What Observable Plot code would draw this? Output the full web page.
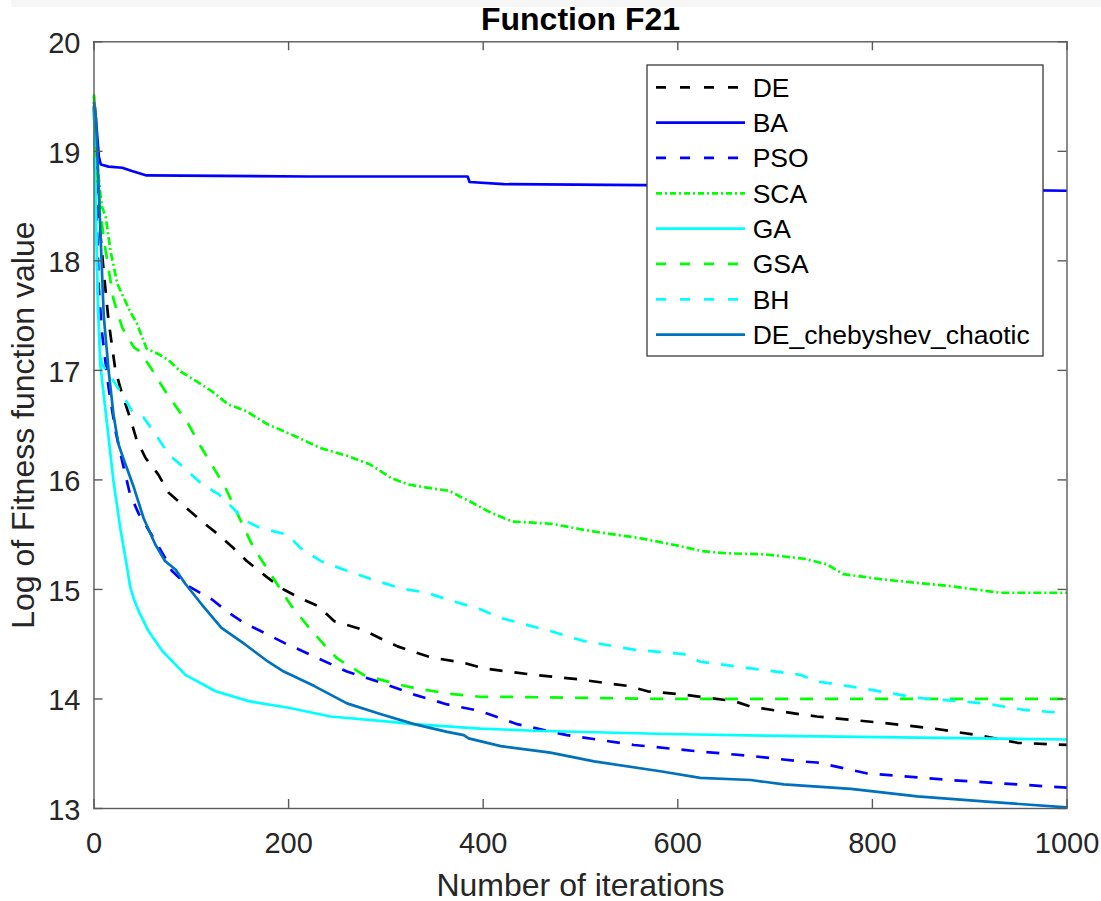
<!DOCTYPE html>
<html><head><meta charset="utf-8">
<script src="https://cdn.jsdelivr.net/npm/d3@7"></script>
<script src="https://cdn.jsdelivr.net/npm/@observablehq/plot@0.6"></script>
<style>
html,body{margin:0;padding:0;background:#fff;}
#wrap{position:relative;width:1101px;height:901px;overflow:hidden;font-family:"Liberation Sans",Arial,Helvetica,sans-serif;}
#wrap svg{display:block;}
#band{position:absolute;left:11px;top:0;width:1090px;height:7px;background:#f6f6f6;}
#legend{position:absolute;left:646px;top:64px;}
</style></head>
<body><div id="wrap"></div>
<script>
// ---- data (iteration, log fitness) ----
const seriesNames = ["DE","BA","PSO","SCA","GA","GSA","BH","DE_chebyshev_chaotic"];
const xTicks = [0,200,400,600,800,1000];
const yTicks = [13,14,15,16,17,18,19,20];

const deData = [[0,19.42],[3,18.7],[6,18.3],[10,17.9],[15,17.45],[22,17.0],[29,16.78],[37,16.57],[44,16.36],[53,16.2],[66,16.05],[77,15.88],[94,15.75],[111,15.62],[128,15.5],[143,15.38],[157,15.26],[178,15.11],[195,15.0],[212,14.92],[230,14.85],[247,14.71],[277,14.63],[295,14.55],[312,14.48],[346,14.38],[380,14.33],[400,14.28],[452,14.22],[497,14.18],[548,14.12],[569,14.07],[606,14.04],[658,13.98],[675,13.93],[726,13.86],[743,13.84],[812,13.78],[863,13.73],[915,13.66],[949,13.6],[1000,13.58]];
const baData = [[0,19.45],[1,19.4],[5,18.95],[7,18.88],[15,18.86],[29,18.85],[39,18.82],[54,18.78],[220,18.77],[384,18.77],[386,18.72],[421,18.70],[600,18.69],[1000,18.64]];
const psoData = [[0,19.4],[2,18.6],[5,17.75],[8,17.36],[15,16.84],[22,16.45],[29,16.17],[37,15.87],[46,15.69],[53,15.59],[73,15.29],[80,15.17],[97,15.03],[121,14.91],[138,14.79],[155,14.69],[176,14.6],[196,14.51],[226,14.39],[260,14.25],[295,14.15],[329,14.04],[363,13.95],[397,13.89],[435,13.77],[486,13.67],[555,13.58],[623,13.52],[675,13.48],[726,13.43],[743,13.42],[795,13.32],[880,13.26],[1000,13.19]];
const scaData = [[0,19.52],[3,18.9],[8,18.5],[12,18.4],[17,18.09],[24,17.79],[37,17.54],[44,17.43],[54,17.2],[66,17.15],[77,17.09],[89,16.99],[107,16.89],[121,16.81],[138,16.69],[156,16.63],[178,16.51],[209,16.39],[233,16.29],[260,16.22],[284,16.14],[305,16.02],[322,15.96],[342,15.93],[365,15.9],[387,15.8],[408,15.7],[430,15.62],[470,15.6],[500,15.55],[520,15.52],[560,15.47],[600,15.4],[625,15.35],[650,15.33],[690,15.32],[730,15.28],[753,15.23],[770,15.14],[812,15.09],[880,15.03],[931,14.97],[1000,14.97]];
const gaData = [[0,19.4],[2,18.4],[4,17.6],[6.4,17.06],[13,16.54],[20,15.99],[27,15.56],[34,15.2],[37,15.03],[41,14.91],[46,14.8],[56,14.62],[70,14.44],[94,14.22],[125,14.07],[159,13.98],[200,13.92],[243,13.84],[294,13.8],[329,13.77],[397,13.73],[452,13.71],[589,13.68],[726,13.66],[1000,13.63]];
const gsaData = [[0,19.5],[3,18.85],[5,18.6],[10,18.2],[20,17.65],[29,17.39],[41,17.21],[46,17.18],[58,17.03],[71,16.84],[85,16.66],[97,16.51],[110,16.3],[123,16.11],[135,15.93],[147,15.7],[164,15.38],[183,15.12],[202,14.86],[222,14.64],[236,14.5],[250,14.37],[277,14.22],[305,14.15],[329,14.1],[363,14.05],[397,14.02],[420,14.02],[590,14.0],[1000,14.0]];
const bhData = [[0,19.4],[2,18.4],[4,17.6],[6,17.2],[8,17.06],[18,16.93],[29,16.78],[39,16.63],[51,16.57],[63,16.42],[77,16.23],[94,16.1],[111,15.96],[128,15.87],[142,15.75],[155,15.63],[171,15.56],[199,15.5],[212,15.38],[233,15.26],[260,15.17],[290,15.08],[315,15.01],[342,14.97],[366,14.9],[397,14.82],[418,14.74],[469,14.62],[503,14.53],[555,14.45],[606,14.41],[623,14.34],[675,14.28],[726,14.22],[743,14.16],[788,14.1],[846,14.01],[915,13.96],[956,13.9],[1000,13.87]];
const chaoticData = [[0,19.45],[2,19.3],[6,18.4],[10,17.5],[15,17.0],[20,16.6],[25,16.33],[30,16.2],[41,15.93],[51,15.65],[63,15.41],[73,15.26],[84,15.18],[94,15.05],[111,14.86],[131,14.65],[155,14.5],[179,14.34],[195,14.25],[226,14.12],[260,13.96],[295,13.86],[329,13.77],[363,13.7],[380,13.67],[385,13.64],[418,13.57],[469,13.51],[514,13.43],[582,13.34],[623,13.28],[675,13.26],[709,13.22],[778,13.18],[846,13.11],[921,13.06],[1000,13.01]];

const seriesData = [deData, baData, psoData, scaData, gaData, gsaData, bhData, chaoticData];
const seriesColors = ["#000000","#0000ff","#0000ff","#00ff00","#00ffff","#00ff00","#00ffff","#0072bd"];
const seriesDash = ["13,12",null,"13,12","8,3,2,3",null,"13,12","13,12",null];
const legendDash = ["10,14",null,"10,14","6,3,2,3",null,"10,14","10,14",null];

// ---- layout ----
const W = 1101, H = 901;
const mL = 93.5, mR = 34.5, mT = 41.3, mB = 93;
const plotW = W - mL - mR, plotH = H - mT - mB;
const tickLen = 9;
const FONT = '"Liberation Sans", Arial, Helvetica, sans-serif';
const AX = "#5a5a5a";

const lineMarks = seriesData.map((data, i) => Plot.line(data, {
  x: d => d[0], y: d => d[1],
  stroke: seriesColors[i], strokeWidth: 2.7,
  strokeDasharray: seriesDash[i] || undefined,
  strokeLinejoin: "round", strokeLinecap: "butt"
}));

const svg = Plot.plot({
  width: W, height: H,
  marginLeft: mL, marginRight: mR, marginTop: mT, marginBottom: mB,
  style: {fontFamily: FONT, color: "#262626", background: "white"},
  x: {domain: [0, 1000]},
  y: {domain: [13, 20]},
  marks: [
    ...lineMarks,
    Plot.frame({stroke: AX, strokeWidth: 1.4}),
    Plot.ruleX(xTicks, {insetTop: plotH - tickLen, stroke: AX, strokeWidth: 1.4}),
    Plot.ruleX(xTicks, {insetBottom: plotH - tickLen, stroke: AX, strokeWidth: 1.4}),
    Plot.ruleY(yTicks, {insetRight: plotW - tickLen, stroke: AX, strokeWidth: 1.4}),
    Plot.ruleY(yTicks, {insetLeft: plotW - tickLen, stroke: AX, strokeWidth: 1.4}),
    Plot.axisX(xTicks, {tickSize: 0, tickPadding: 24, fontSize: 29, label: null, tickFormat: d => String(d)}),
    Plot.axisY(yTicks, {tickSize: 0, tickPadding: 13.5, fontSize: 29, label: null, dy: 2, tickFormat: d => String(d)}),
    Plot.text(["Function F21"], {frameAnchor: "top", dy: -12, lineAnchor: "bottom", fontSize: 32, fontWeight: "bold", fill: "#000"}),
    Plot.text(["Number of iterations"], {frameAnchor: "bottom", dy: 87, lineAnchor: "bottom", fontSize: 32, fill: "#262626"}),
    Plot.text(["Log of Fitness function value"], {frameAnchor: "left", dx: -60, rotate: -90, textAnchor: "middle", lineAnchor: "bottom", fontSize: 32, fill: "#262626"})
  ]
});

const wrap = document.getElementById("wrap");
wrap.appendChild(svg);
const band = document.createElement("div");
band.id = "band";
wrap.appendChild(band);

// ---- legend ----
const lg = d3.create("svg").attr("id", "legend").attr("width", 399).attr("height", 294);
lg.append("rect").attr("x", 1).attr("y", 1).attr("width", 396).attr("height", 291)
  .attr("fill", "white").attr("stroke", "#3a3a3a").attr("stroke-width", 1.3);
seriesNames.forEach((name, i) => {
  const cy = 23.3 + i * 35.33;
  lg.append("line").attr("x1", 10).attr("x2", 99).attr("y1", cy).attr("y2", cy)
    .attr("stroke", seriesColors[i]).attr("stroke-width", 2.7)
    .attr("stroke-dasharray", legendDash[i]);
  lg.append("text").attr("x", 106.7).attr("y", cy + 9.5)
    .attr("font-family", FONT).attr("font-size", 26.5).attr("fill", "#000").text(name);
});
wrap.appendChild(lg.node());
</script>
</body></html>
